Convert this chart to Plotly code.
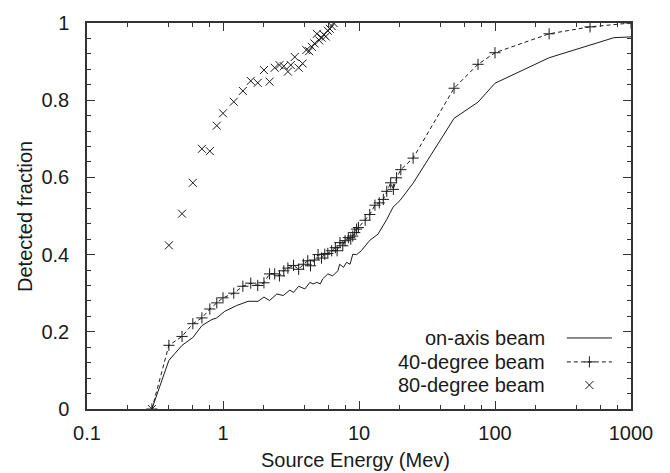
import plotly.graph_objects as go

# ---------------- data ----------------
on_axis_E = [0.3, 0.4, 0.5, 0.6, 0.7, 0.82, 0.9, 1.03, 1.26, 1.53, 1.81, 2.0, 2.2, 2.49, 2.77,
             3.1, 3.3, 3.6, 4.0, 4.35, 4.6, 4.9, 5.2, 5.4, 5.9, 6.4, 7.0, 7.2, 7.7, 8.1, 8.6,
             9.0, 9.6, 10.4, 12.0, 13.8, 16.0, 17.8, 20, 25, 50, 75, 100, 250, 750, 1000]
on_axis_f = [0.0, 0.126, 0.165, 0.185, 0.216, 0.231, 0.236, 0.253, 0.268, 0.279, 0.279, 0.290, 0.281,
             0.298, 0.294, 0.308, 0.302, 0.318, 0.311, 0.328, 0.324, 0.328, 0.324, 0.337, 0.350,
             0.345, 0.358, 0.375, 0.367, 0.380, 0.375, 0.401, 0.400, 0.410, 0.437, 0.453, 0.491,
             0.523, 0.540, 0.585, 0.753, 0.795, 0.844, 0.910, 0.962, 0.964]

deg40_E = [0.3, 0.4, 0.5, 0.6, 0.7, 0.8, 0.9, 1.0, 1.2, 1.4, 1.6, 1.8, 2.0, 2.2, 2.4, 2.6, 2.8,
           3.0, 3.3, 3.6, 3.9, 4.2, 4.4, 4.7, 5.0, 5.3, 5.6, 5.9, 6.3, 6.7, 6.9, 7.25, 7.6, 7.9,
           8.35, 8.7, 9.0, 9.3, 9.6, 9.9, 11.1, 12.0, 13.1, 14.1, 15.1, 16.0, 17.1, 17.9, 18.9,
           20.3, 25, 50, 75, 100, 250, 500, 1000]
deg40_f = [0.0, 0.165, 0.188, 0.221, 0.236, 0.259, 0.275, 0.288, 0.300, 0.318, 0.326, 0.320, 0.327,
           0.350, 0.350, 0.345, 0.358, 0.365, 0.372, 0.362, 0.375, 0.384, 0.371, 0.386, 0.400,
           0.391, 0.401, 0.403, 0.410, 0.418, 0.410, 0.431, 0.423, 0.436, 0.444, 0.440, 0.448,
           0.457, 0.466, 0.470, 0.489, 0.504, 0.528, 0.534, 0.543, 0.564, 0.586, 0.569, 0.599,
           0.620, 0.650, 0.831, 0.893, 0.923, 0.972, 0.990, 1.0]

deg80_E = [0.3, 0.4, 0.5, 0.6, 0.7, 0.8, 0.9, 1.0, 1.2, 1.4, 1.6, 1.8, 2.0, 2.2, 2.4, 2.6, 2.8,
           3.0, 3.15, 3.37, 3.6, 3.85, 4.1, 4.3, 4.5, 4.7, 4.9, 5.1, 5.3, 5.5, 5.7, 5.9, 6.1,
           6.3, 6.5]
deg80_f = [0.0, 0.424, 0.506, 0.586, 0.674, 0.668, 0.734, 0.766, 0.796, 0.824, 0.850, 0.845, 0.878,
           0.848, 0.884, 0.891, 0.888, 0.874, 0.891, 0.912, 0.884, 0.895, 0.930, 0.927, 0.938,
           0.947, 0.972, 0.955, 0.962, 0.970, 0.965, 0.980, 0.985, 0.992, 1.0]

x_ticks = [0.1, 1, 10, 100, 1000]
x_ticktext = ["0.1", "1", "10", "100", "1000"]
x_minor = [0.2, 0.4, 0.6, 0.8, 2, 4, 6, 8, 20, 40, 60, 80, 200, 400, 600, 800]
y_ticks = [0, 0.2, 0.4, 0.6, 0.8, 1]
y_ticktext = ["0", "0.2", "0.4", "0.6", "0.8", "1"]

series_names = ["on-axis beam", "40-degree beam", "80-degree beam"]

# ---------------- figure ----------------
INK = "#1a1a1a"
FONT = "Liberation Sans, Arial, sans-serif"
fig = go.Figure()

fig.add_trace(go.Scatter(x=on_axis_E, y=on_axis_f, mode="lines", name=series_names[0],
                         line=dict(color=INK, width=1), showlegend=False))
fig.add_trace(go.Scatter(x=deg40_E, y=deg40_f, mode="lines+markers", name=series_names[1],
                         line=dict(color=INK, width=1, dash="4px,3px"),
                         marker=dict(symbol="cross-thin", size=8, line=dict(color=INK, width=1)),
                         showlegend=False))
fig.add_trace(go.Scatter(x=deg80_E, y=deg80_f, mode="markers", name=series_names[2],
                         marker=dict(symbol="x-thin", size=8, line=dict(color=INK, width=1)),
                         showlegend=False))

# legend keys on a hidden overlay axis (0..1 in plot-area units)
key_x = [0.882, 0.9235, 0.965]
key_rows = [0.184, 0.122, 0.062]
fig.add_trace(go.Scatter(x=[key_x[0], key_x[2]], y=[key_rows[0]] * 2, mode="lines",
                         xaxis="x2", yaxis="y2", line=dict(color=INK, width=1),
                         showlegend=False, hoverinfo="skip"))
fig.add_trace(go.Scatter(x=[key_x[0], key_x[2]], y=[key_rows[1]] * 2, mode="lines",
                         xaxis="x2", yaxis="y2", line=dict(color=INK, width=1, dash="4px,3px"),
                         showlegend=False, hoverinfo="skip"))
fig.add_trace(go.Scatter(x=[key_x[1]], y=[key_rows[1]], mode="markers",
                         xaxis="x2", yaxis="y2",
                         marker=dict(symbol="cross-thin", size=8, line=dict(color=INK, width=1)),
                         showlegend=False, hoverinfo="skip"))
fig.add_trace(go.Scatter(x=[key_x[1]], y=[key_rows[2]], mode="markers",
                         xaxis="x2", yaxis="y2",
                         marker=dict(symbol="x-thin", size=8, line=dict(color=INK, width=1)),
                         showlegend=False, hoverinfo="skip"))

annotations = []
for name, yy in zip(series_names, key_rows):
    annotations.append(dict(text=name, x=0.846, y=yy, xref="paper", yref="paper",
                            xanchor="right", yanchor="middle", showarrow=False,
                            font=dict(family=FONT, size=20, color=INK)))
annotations.append(dict(text="Detected fraction", x=-0.114, y=0.5, xref="paper", yref="paper",
                        textangle=-90, xanchor="center", yanchor="middle", showarrow=False,
                        font=dict(family=FONT, size=20, color=INK)))
annotations.append(dict(text="Source Energy (Mev)", x=0.494, y=-0.132, xref="paper", yref="paper",
                        xanchor="center", yanchor="middle", showarrow=False,
                        font=dict(family=FONT, size=20, color=INK)))

axis_common = dict(showgrid=False, zeroline=False, showline=True, linecolor="#333",
                   linewidth=1.5, mirror="allticks", ticks="inside", tickcolor="#333",
                   tickwidth=1.2, ticklen=8,
                   tickfont=dict(family=FONT, size=20, color=INK))

fig.update_layout(
    width=670, height=473,
    margin=dict(l=87, r=39, t=21, b=64),
    paper_bgcolor="white", plot_bgcolor="white",
    showlegend=False,
    xaxis=dict(type="log", range=[-1, 3], tickmode="array", tickvals=x_ticks,
               ticktext=x_ticktext, ticklabelstandoff=5,
               minor=dict(tickmode="array", tickvals=x_minor, ticks="inside", ticklen=4,
                          tickcolor="#333", tickwidth=1, showgrid=False),
               **axis_common),
    yaxis=dict(range=[0, 1], tickmode="array", tickvals=y_ticks, ticktext=y_ticktext,
               ticklabelstandoff=12,
               minor=dict(dtick=0.04, tick0=0, ticks="inside", ticklen=4,
                          tickcolor="#333", tickwidth=1, showgrid=False),
               **axis_common),
    xaxis2=dict(overlaying="x", range=[0, 1], visible=False, fixedrange=True),
    yaxis2=dict(overlaying="y", range=[0, 1], visible=False, fixedrange=True),
    annotations=annotations,
)

fig.write_html("out.html",
               config={"displayModeBar": False},
               post_script="document.body.style.margin='0px';document.body.style.overflow='hidden';")
